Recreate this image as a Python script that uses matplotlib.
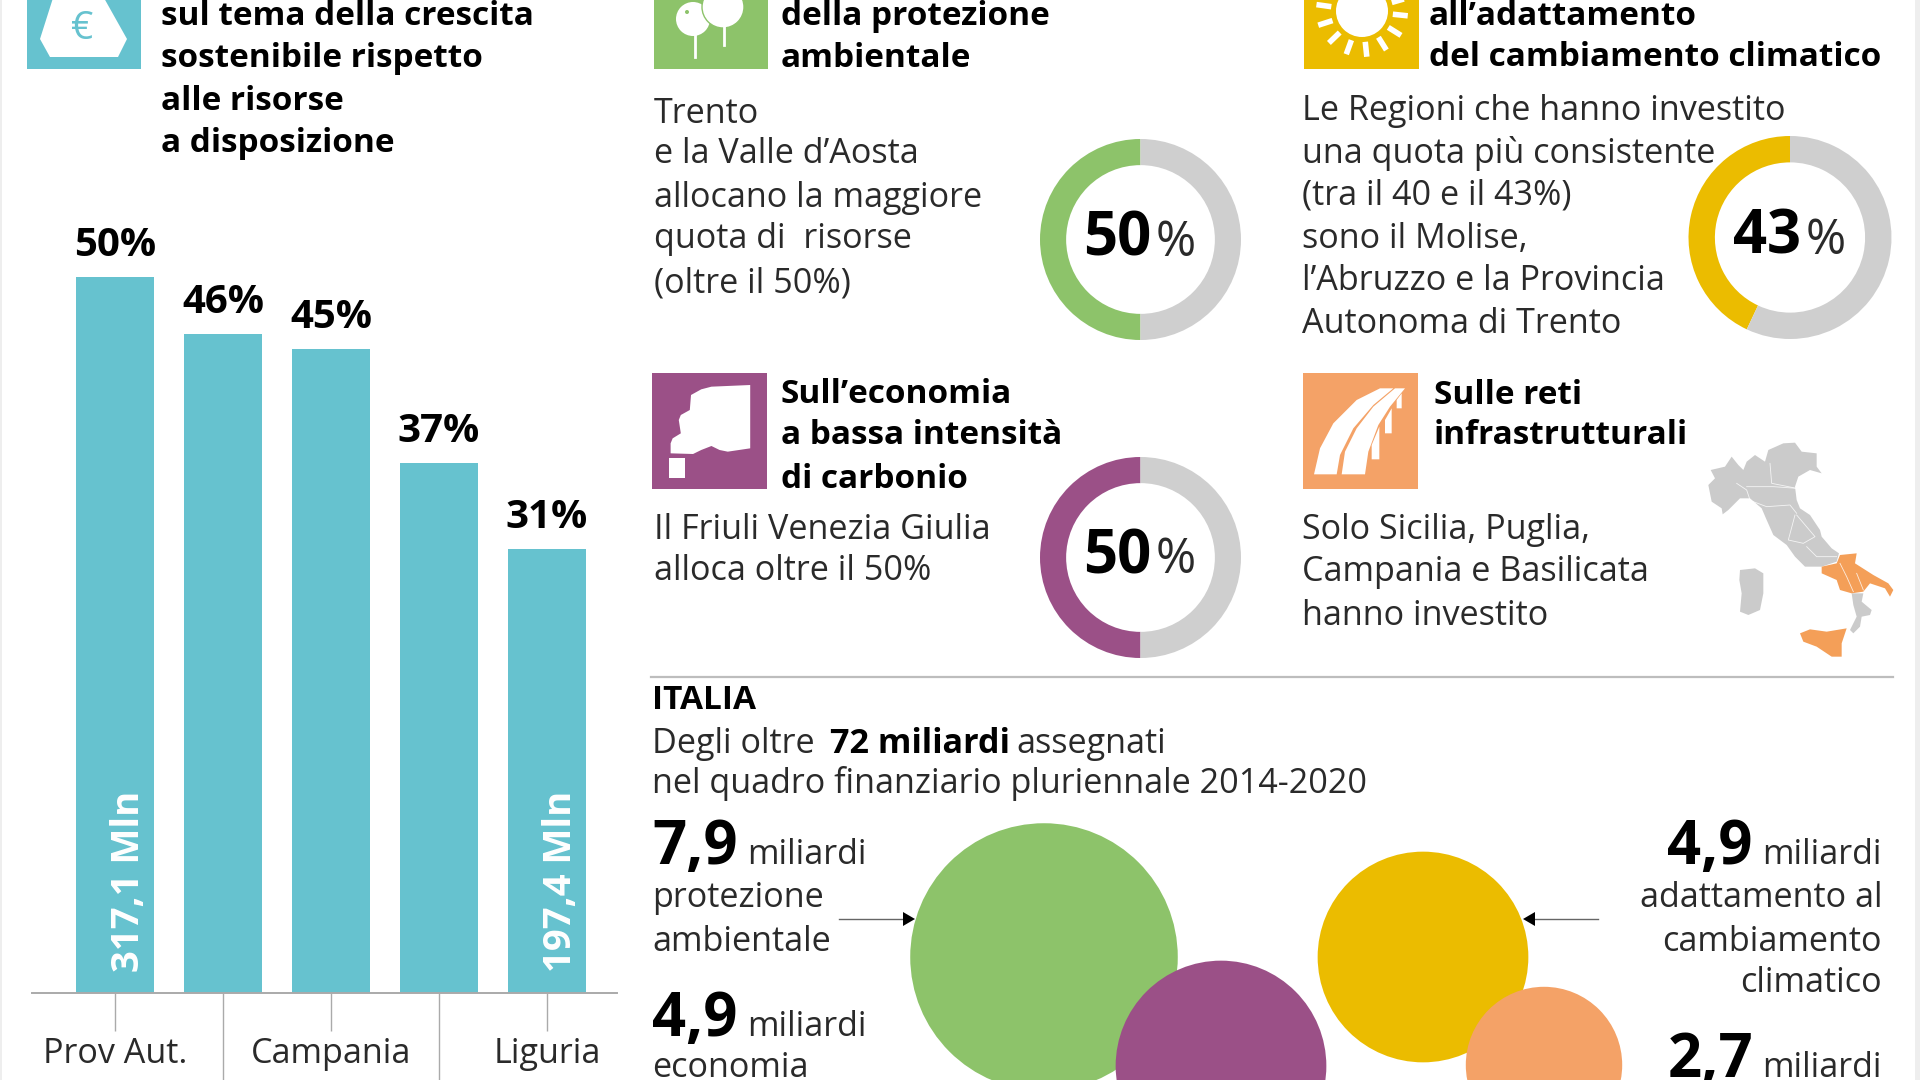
import numpy as np
import matplotlib
matplotlib.use("Agg")
import matplotlib.pyplot as plt
from matplotlib.patches import Polygon, Rectangle, Circle

plt.rcParams['font.family'] = ['Open Sans', 'DejaVu Sans']

# bar chart
regions = ["Prov Aut.", "", "Campania", "", "Liguria"]
shares = [50, 46, 45, 37, 31]
bar_notes = ["317,1 Mln", "", "", "", "197,4 Mln"]

# donuts
share_green = [50, 50]
share_yellow = [43, 57]
share_purple = [50, 50]

# bubbles, miliardi
bubble_values = [7.9, 4.9, 4.9, 2.7]

head_teal = ["sul tema della crescita", "sostenibile rispetto", "alle risorse", "a disposizione"]
head_green = ["della protezione", "ambientale"]
head_yellow = ["all\u2019adattamento", "del cambiamento climatico"]
head_purple = ["Sull\u2019economia", "a bassa intensit\u00e0", "di carbonio"]
head_orange = ["Sulle reti", "infrastrutturali"]

body_green = ["Trento", "e la Valle d\u2019Aosta", "allocano la maggiore", "quota di  risorse", "(oltre il 50%)"]
body_yellow = ["Le Regioni che hanno investito", "una quota pi\u00f9 consistente", "(tra il 40 e il 43%)",
               "sono il Molise,", "l\u2019Abruzzo e la Provincia", "Autonoma di Trento"]
body_purple = ["Il Friuli Venezia Giulia", "alloca oltre il 50%"]
body_orange = ["Solo Sicilia, Puglia,", "Campania e Basilicata", "hanno investito"]

TEAL = '#66C2CF'
GREEN = '#8DC36A'
YELLOW = '#EBBC00'
PURPLE = '#9B5087'
ORANGE = '#F4A267'
RING = '#CFCFCF'
MAP = '#CBCBCB'
INK = '#2a2a2a'

W, H = 1920, 1080
HEAD = 24
BODY = 24.6
BODY_W = 'normal'
fig = plt.figure(figsize=(19.2, 10.8), dpi=100, facecolor='white')


def box(x0, y0, x1, y1):
    return [x0 / W, 1 - y1 / H, (x1 - x0) / W, (y1 - y0) / H]


# overlay in image pixels for texts and icons
ax = fig.add_axes([0, 0, 1, 1], zorder=3)
ax.set_xlim(0, W)
ax.set_ylim(H, 0)
ax.axis('off')
ax.patch.set_alpha(0)

# --- bars ---
abar = fig.add_axes(box(32, 277, 617, 993), zorder=1)
abar.bar(range(5), shares, width=78 / 108, color=TEAL)
abar.set_xlim((32 - 115) / 108, (617 - 115) / 108)
abar.set_ylim(0, 50)
abar.set_yticks([])
for s in ['top', 'left', 'right']:
    abar.spines[s].set_visible(False)
abar.spines['bottom'].set_color('#aaaaaa')
abar.spines['bottom'].set_linewidth(1.4)
abar.set_xticks(range(5))
abar.set_xticklabels(regions, fontsize=BODY, color=INK, fontweight=BODY_W)
abar.tick_params(axis='x', length=27, width=1, color='#aaaaaa', pad=5)
for i, t in enumerate(abar.xaxis.get_major_ticks()):
    if regions[i] == "":
        t.tick1line.set_markersize(65)
for i, v in enumerate(shares):
    abar.annotate(f"{v}%", xy=(i, v), xytext=(0, 15), textcoords='offset points', ha='center',
                  va='baseline', fontsize=29, fontweight='bold', color='black', annotation_clip=False)
    if bar_notes[i]:
        abar.annotate(bar_notes[i], xy=(i, 0), xytext=(10, 15), textcoords='offset points', ha='center',
                      va='bottom', rotation=90, fontsize=27.5, fontweight='bold', color='white')


# --- text helper ---
def lines(x, baselines, rows, size, weight='normal', ha='left'):
    for y, row in zip(baselines, rows):
        ax.text(x, y, row, fontsize=size, fontweight=weight, color=INK if weight != 'bold' else 'black',
                ha=ha, va='baseline')


lines(161, [25, 67, 110, 152], head_teal, HEAD, 'bold')
lines(781, [25, 67], head_green, HEAD, 'bold')
lines(1429, [25, 66], head_yellow, HEAD, 'bold')
lines(781, [403, 444, 488], head_purple, HEAD, 'bold')
lines(1434, [404, 444], head_orange, HEAD, 'bold')

lines(654, [123, 163, 207, 248, 292], body_green, BODY, BODY_W)
lines(1302, [120, 163, 205, 248, 290, 333], body_yellow, BODY, BODY_W)
lines(654, [539, 580], body_purple, BODY, BODY_W)
lines(1302, [539, 581, 625], body_orange, BODY, BODY_W)


# --- donuts ---
def donut(cx, cy, r, values, color, pct_text, baseline, split):
    a = fig.add_axes(box(cx - r, cy - r, cx + r, cy + r), zorder=1)
    a.pie(values, colors=[color, RING], startangle=90, radius=1, counterclock=True,
          wedgeprops=dict(width=0.26))
    a.set_xlim(-1, 1)
    a.set_ylim(-1, 1)
    ax.text(split, baseline, pct_text, fontsize=43, fontweight='bold', color='black', ha='right', va='baseline')
    ax.text(split + 5, baseline, '%', fontsize=35, fontweight=BODY_W, color=INK, ha='left', va='baseline')


donut(1140.5, 239.5, 100.5, share_green, GREEN, '50', 256, 1151)
donut(1790, 237.5, 101.5, share_yellow, YELLOW, '43', 254, 1801)
donut(1140.5, 557.5, 100.5, share_purple, PURPLE, '50', 573, 1151)

# --- icons ---
ax.add_patch(Rectangle((26.5, -5), 114.5, 74, color=TEAL, lw=0))
ax.add_patch(Polygon([(53, -2), (104, -2), (127, 39), (118, 57), (50, 57), (40, 39)], color='white', lw=0))
ax.text(82, 29, '\u20ac', fontsize=28, color=TEAL, ha='center', va='center')

ax.add_patch(Rectangle((653.5, -5), 114.5, 74, color=GREEN, lw=0))
ax.plot([695, 695], [30, 57], color='white', lw=2)
ax.plot([724, 724], [20, 45], color='white', lw=2)
ax.add_patch(Circle((693, 19), 17, color='white', lw=0))
ax.add_patch(Circle((723, 7), 21, facecolor='white', edgecolor=GREEN, lw=1))
ax.add_patch(Circle((687, 12), 2, color=GREEN, lw=0))

ax.add_patch(Rectangle((1304, -5), 115, 74, color=YELLOW, lw=0))
ax.add_patch(Circle((1362, 11), 26, color='white', lw=0))
for deg in range(0, 360, 26):
    rad = np.radians(deg + 6)
    ax.plot([1362 + 31 * np.cos(rad), 1362 + 46 * np.cos(rad)],
            [11 + 31 * np.sin(rad), 11 + 46 * np.sin(rad)], color='white', lw=4, solid_capstyle='butt')

ax.add_patch(Rectangle((651.5, 373), 115.5, 116, color=PURPLE, lw=0))
cloud = [(270, 75), (175, 80), (150, 88), (125, 105), (122, 150), (100, 165), (95, 180), (100, 220), (80, 235), (75, 250),
         (75, 280), (130, 282), (150, 270), (175, 258), (195, 270), (215, 275), (270, 265)]
ax.add_patch(Polygon([(640 + a / 2.45, 360 + b / 3) for a, b in cloud], color='white', lw=0))
ax.add_patch(Rectangle((668.5, 457.5), 16.5, 20, color='white', lw=0))

ax.add_patch(Rectangle((1302.7, 373), 115, 116, color=ORANGE, lw=0))
road = [
    [(72, 328), (140, 328), (150, 270), (190, 190), (250, 120), (310, 70), (270, 70), (200, 105), (130, 175), (90, 250)],
    [(155, 328), (225, 328), (235, 260), (265, 180), (300, 125), (345, 70), (315, 70), (250, 125), (200, 190), (165, 260)],
    [(245, 283), (268, 283), (268, 185), (245, 240)],
    [(285, 205), (305, 205), (305, 130), (285, 165)],
    [(320, 130), (335, 130), (335, 85), (320, 105)],
]
for part in road:
    ax.add_patch(Polygon([(1290 + a / 3, 365 + b / 3) for a, b in part], color='white', lw=0))


# --- map ---
def m(pts):
    return [(1640 + a / 3, 420 + b / 3) for a, b in pts]


north = [(212, 150), (255, 140), (275, 110), (295, 135), (310, 150), (320, 125), (345, 105), (375, 125), (385, 90),
         (430, 70), (465, 68), (485, 95), (530, 100), (530, 140), (545, 160), (510, 150), (475, 170), (465, 200),
         (470, 240), (480, 265), (510, 285), (540, 330), (545, 350), (575, 385), (597, 400), (590, 425), (545, 440),
         (495, 440), (465, 410), (440, 375), (400, 345), (380, 300), (365, 265), (330, 235), (300, 235), (265, 270),
         (248, 283), (245, 265), (215, 245), (205, 195), (225, 175)]
sardinia = [(300, 450), (345, 445), (370, 460), (370, 520), (360, 570), (325, 585), (300, 575), (305, 520), (298, 480)]
calabria = [(635, 520), (670, 520), (665, 545), (695, 570), (690, 585), (665, 590), (660, 620), (640, 640), (630, 630),
            (650, 590), (640, 555)]
south = [(600, 405), (650, 400), (645, 430), (700, 465), (745, 490), (760, 510), (750, 530), (735, 505), (690, 490),
         (670, 515), (635, 520), (600, 510), (590, 480), (545, 460), (545, 440), (590, 430)]
sicily = [(480, 640), (510, 628), (560, 635), (620, 625), (605, 670), (605, 710), (575, 710), (530, 680), (490, 665)]
for shape in (north, sardinia, calabria):
    ax.add_patch(Polygon(m(shape), color=MAP, lw=0))
for shape in (south, sicily):
    ax.add_patch(Polygon(m(shape), color='#F49F58', lw=0))
borders = [
    [(290, 190), (320, 210), (330, 240)], [(390, 130), (395, 190), (470, 205)], [(320, 200), (400, 200), (470, 205)],
    [(340, 245), (380, 260), (450, 255), (470, 280)], [(465, 285), (445, 360), (490, 370), (525, 350), (470, 285)],
    [(500, 380), (530, 410), (590, 410)], [(600, 430), (620, 470), (640, 515)], [(650, 460), (670, 510)],
]
for b in borders:
    xs, ys = zip(*m(b))
    ax.plot(xs, ys, color='white', lw=0.6, alpha=0.8)

# --- lower block ---
ax.plot([651, 1893], [677, 677], color='#bdbdbd', lw=1.6)
ax.text(652, 709, "ITALIA", fontsize=HEAD, fontweight='bold', color='black', va='baseline')
ax.text(652, 753, "Degli oltre", fontsize=BODY, fontweight=BODY_W, color=INK, va='baseline')
ax.text(830, 753, "72 miliardi", fontsize=BODY, fontweight='bold', color='black', va='baseline')
ax.text(1016, 753, "assegnati", fontsize=BODY, fontweight=BODY_W, color=INK, va='baseline')
ax.text(652, 793, "nel quadro finanziario pluriennale 2014-2020", fontsize=BODY, fontweight=BODY_W, color=INK, va='baseline')

# bubbles, area goes with the amount
bx = [1044, 1221, 1423, 1544]
by = [957, 1066, 957, 1065]
ax.scatter(bx, by, s=[v * 4697 for v in bubble_values], c=[GREEN, PURPLE, YELLOW, ORANGE], linewidths=0, zorder=2)

ax.plot([839, 905], [919, 919], color='#666666', lw=1, zorder=3)
ax.add_patch(Polygon([(915, 919), (903, 912), (903, 926)], color='black', lw=0, zorder=3))
ax.plot([1533, 1598], [919, 919], color='#666666', lw=1, zorder=3)
ax.add_patch(Polygon([(1523, 919), (1535, 912), (1535, 926)], color='black', lw=0, zorder=3))

# amounts
ax.text(652, 864, "7,9", fontsize=43, fontweight='bold', color='black', va='baseline')
ax.text(747, 864, "miliardi", fontsize=BODY, fontweight=BODY_W, color=INK, va='baseline')
lines(652, [907, 951], ["protezione", "ambientale"], BODY, BODY_W)
ax.text(652, 1036, "4,9", fontsize=43, fontweight='bold', color='black', va='baseline')
ax.text(747, 1036, "miliardi", fontsize=BODY, fontweight=BODY_W, color=INK, va='baseline')
lines(652, [1077], ["economia"], BODY, BODY_W)

ax.text(1753, 864, "4,9", fontsize=43, fontweight='bold', color='black', va='baseline', ha='right')
ax.text(1882, 864, "miliardi", fontsize=BODY, fontweight=BODY_W, color=INK, va='baseline', ha='right')
lines(1882, [907, 951, 992], ["adattamento al", "cambiamento", "climatico"], BODY, BODY_W, ha='right')
ax.text(1753, 1077, "2,7", fontsize=43, fontweight='bold', color='black', va='baseline', ha='right')
ax.text(1882, 1077, "miliardi", fontsize=BODY, fontweight=BODY_W, color=INK, va='baseline', ha='right')

# thin grey edge strips of the page
ax.add_patch(Rectangle((0, 0), 2, H, color='#eeeeee', lw=0))
ax.add_patch(Rectangle((1915, 0), 5, H, color='#eeeeee', lw=0))

fig.savefig('out.png', dpi=100)
